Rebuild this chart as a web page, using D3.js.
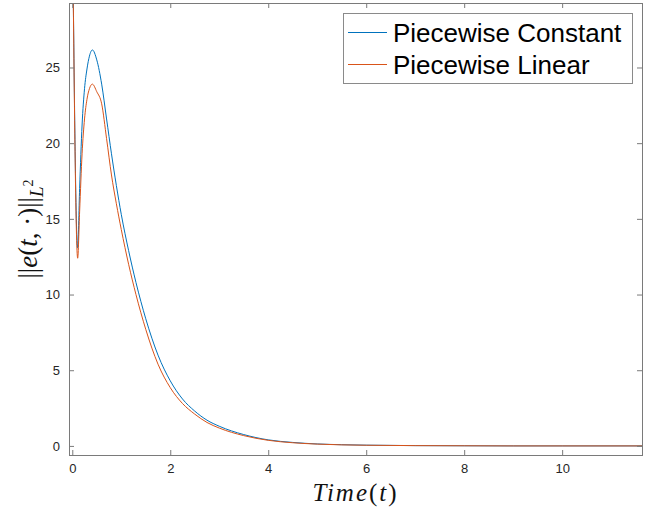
<!DOCTYPE html>
<html>
<head>
<meta charset="utf-8">
<script src="https://d3js.org/d3.v7.min.js"></script>
<style>
  body { margin: 0; background: #fff; }
  svg { display: block; }
  .tick text { font-family: "Liberation Sans", Arial, sans-serif; font-size: 13px; fill: #262626; }
  .tick line { stroke: #7a7a7a; }
</style>
</head>
<body>
<svg width="658" height="510"></svg>
<script>
// time samples and error norms
const times = [0, 0.11, 0.15, 0.2, 0.25, 0.3, 0.35, 0.41, 0.5, 0.6, 0.7, 0.8, 0.9, 1.0, 1.15, 1.3, 1.5, 1.75,
  2.0, 2.25, 2.5, 2.75, 3.0, 3.5, 4.0, 4.5, 5.0, 5.5, 6.0, 7.0, 8.0, 9.0, 10.0, 11.63];
const constantErr = [36, 13.07, 17.0, 21.2, 23.6, 24.9, 25.75, 26.16, 25.5, 23.9, 21.6, 19.3, 17.2, 15.3, 12.9, 10.8, 8.4, 6.0,
  4.3, 3.1, 2.3, 1.7, 1.3, 0.75, 0.4, 0.23, 0.13, 0.08, 0.05, 0.02, 0.01, 0, 0, 0];
const linearErr = [36, 12.4, 15.5, 19.3, 21.6, 22.9, 23.6, 23.9, 23.4, 22.6, 20.3, 17.9, 16.0, 14.3, 12.0, 10.0, 7.7, 5.4,
  3.85, 2.8, 2.1, 1.55, 1.18, 0.68, 0.37, 0.21, 0.12, 0.07, 0.045, 0.02, 0.01, 0, 0, 0];
const seriesNames = ['Piecewise Constant', 'Piecewise Linear'];
const seriesColors = ['#0072BD', '#D95319'];
const xTicks = [0, 2, 4, 6, 8, 10];
const yTicks = [0, 5, 10, 15, 20, 25];

const margin = { top: 3, right: 16, bottom: 55, left: 69 };
const width = 658 - margin.left - margin.right;
const height = 510 - margin.top - margin.bottom;

const svg = d3.select('svg');
const g = svg.append('g')
  .attr('transform', `translate(${margin.left}, ${margin.top})`);

const x = d3.scaleLinear().domain([-0.067, 11.63]).range([0, width]);
const y = d3.scaleLinear().domain([-0.6, 29.26]).range([height, 0]);

g.append('clipPath').attr('id', 'clip')
  .append('rect').attr('width', width).attr('height', height);

const allSeries = [constantErr, linearErr];
const line = d3.line()
  .x(d => x(d[0]))
  .y(d => y(d[1]))
  .curve(d3.curveMonotoneX);

g.append('g')
  .attr('clip-path', 'url(#clip)')
  .selectAll('path')
  .data(allSeries)
  .enter().append('path')
  .attr('fill', 'none')
  .attr('stroke', (d, i) => seriesColors[i])
  .attr('stroke-width', 1)
  .attr('d', d => line(times.map((t, i) => [t, d[i]])));

// axes, ticks pointing inwards like matlab
g.append('g')
  .attr('transform', `translate(0, ${height})`)
  .call(d3.axisBottom(x).tickValues(xTicks).tickSize(-5).tickSizeOuter(0).tickPadding(9));
g.append('g')
  .call(d3.axisLeft(y).tickValues(yTicks).tickSize(-5).tickSizeOuter(0).tickPadding(9));
g.append('g')
  .call(d3.axisTop(x).tickValues(xTicks).tickSize(-5).tickSizeOuter(0).tickFormat(''));
g.append('g')
  .attr('transform', `translate(${width}, 0)`)
  .call(d3.axisRight(y).tickValues(yTicks).tickSize(-5).tickSizeOuter(0).tickFormat(''));
g.selectAll('.domain').remove();

g.append('rect')
  .attr('x', 0.5).attr('y', 0.5)
  .attr('width', width).attr('height', height)
  .attr('fill', 'none')
  .attr('stroke', '#7a7a7a');

// axis labels
const xl = svg.append('text')
  .attr('x', margin.left + width / 2)
  .attr('y', 501)
  .attr('text-anchor', 'middle')
  .style('font-family', '"Liberation Serif", "DejaVu Serif", serif')
  .style('font-size', '25px')
  .style('letter-spacing', '2px')
  .style('fill', '#111');
xl.append('tspan').style('font-style', 'italic').text('Time');
xl.append('tspan').text('(');
xl.append('tspan').style('font-style', 'italic').text('t');
xl.append('tspan').text(')');

const yl = svg.append('text')
  .attr('transform', `translate(37, ${margin.top + height / 2}) rotate(-90)`)
  .attr('text-anchor', 'middle')
  .style('font-family', '"Liberation Serif", "DejaVu Serif", serif')
  .style('font-size', '27px')
  .style('fill', '#111');
yl.append('tspan').text('||');
yl.append('tspan').style('font-style', 'italic').text('e');
yl.append('tspan').text('(');
yl.append('tspan').style('font-style', 'italic').text('t');
yl.append('tspan').text(', ·)||');
yl.append('tspan').attr('dy', 6).style('font-size', '19px').style('font-style', 'italic').text('L');
yl.append('tspan').attr('dy', -10).style('font-size', '14px').text('2');

// legend
const legend = svg.append('g').attr('transform', 'translate(343, 13)');
legend.append('rect')
  .attr('x', 0.5).attr('y', 0.5)
  .attr('width', 289).attr('height', 70)
  .attr('fill', '#fff')
  .attr('stroke', '#8a8a8a');
const items = legend.selectAll('.item')
  .data(seriesNames)
  .enter().append('g')
  .attr('class', 'item')
  .attr('transform', (d, i) => `translate(0, ${19.5 + i * 32})`);
items.append('line')
  .attr('x1', 5).attr('x2', 44)
  .attr('stroke', (d, i) => seriesColors[i])
  .attr('stroke-width', 1);
items.append('text')
  .attr('x', 50)
  .attr('dy', '0.35em')
  .style('font-family', '"Liberation Sans", Arial, sans-serif')
  .style('font-size', '26px')
  .style('fill', '#000')
  .text(d => d);
</script>
</body>
</html>
